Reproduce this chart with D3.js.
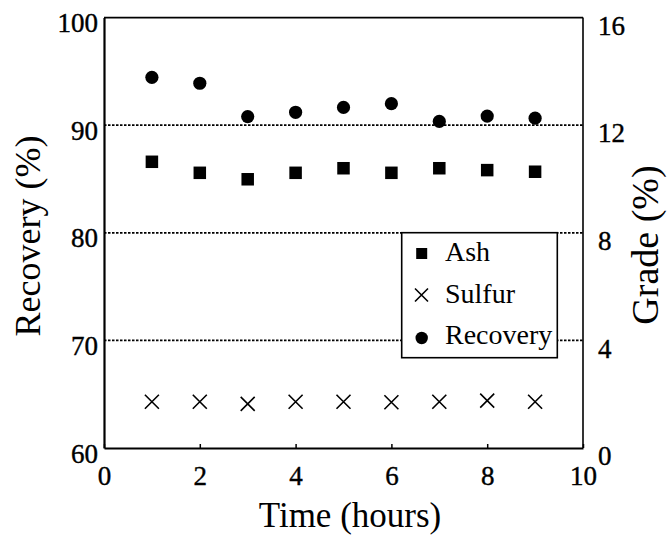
<!DOCTYPE html>
<html><head><meta charset="utf-8">
<script src="https://cdn.jsdelivr.net/npm/d3@7"></script>
<style>html,body{margin:0;padding:0;background:#fff;}
svg text{font-family:"Liberation Serif","Times New Roman",Times,"DejaVu Serif",serif !important;}</style>
</head><body>
<script>
const time = [1, 2, 3, 4, 5, 6, 7, 8, 9];
const recovery = [94.45, 93.9, 90.8, 91.2, 91.65, 92.0, 90.35, 90.85, 90.65];
const ashGrade = [10.64, 10.23, 9.99, 10.23, 10.40, 10.23, 10.40, 10.33, 10.27];
const sulfurGrade = [1.72, 1.72, 1.64, 1.72, 1.72, 1.70, 1.72, 1.76, 1.72];
const xTicks = [0, 2, 4, 6, 8, 10];
const leftTicks = [60, 70, 80, 90, 100];
const rightTicks = [0, 4, 8, 12, 16];
const gridValues = [70, 80, 90];
const legendLabels = ["Ash", "Sulfur", "Recovery"];

const W = 668, H = 541;
const L = 104, R = 583, T = 17.6, B = 448;
const FONT = "'Liberation Serif', 'Times New Roman', Times, 'DejaVu Serif', serif";
const svg = d3.select("body").append("svg").attr("width", W).attr("height", H).attr("font-family", FONT);

const x = d3.scaleLinear().domain([0, 10]).range([L, R]);
const yL = d3.scaleLinear().domain([60, 100]).range([B, T]);
const yR = d3.scaleLinear().domain([0, 16]).range([B, T]);

// grid
svg.append("g").selectAll("line").data(gridValues).join("line")
  .attr("x1", L).attr("x2", R).attr("y1", d => yL(d)).attr("y2", d => yL(d))
  .attr("stroke", "#000").attr("stroke-width", 1.8).attr("stroke-dasharray", "2.5,1.5");

// frame
svg.append("line").attr("x1", L).attr("x2", R).attr("y1", T).attr("y2", T).attr("stroke", "#000").attr("stroke-width", 1.6);
svg.append("line").attr("x1", R).attr("x2", R).attr("y1", T).attr("y2", B).attr("stroke", "#000").attr("stroke-width", 1.6);

// bottom axis
const xAxis = d3.axisBottom(x).tickValues(xTicks).tickSizeInner(-4).tickSizeOuter(0).tickFormat(d3.format("d"));
const gx = svg.append("g").attr("transform", `translate(0,${B})`).call(xAxis).attr("font-family", FONT);
gx.select(".domain").attr("stroke-width", 2.2);
gx.selectAll(".tick line").attr("stroke-width", 1.5);
gx.selectAll(".tick text").attr("font-size", 27).attr("font-family", FONT).attr("fill", "#000")
  .attr("stroke", "#000").attr("stroke-width", 0.4).attr("y", 0).attr("dy", 37);

// left axis
const yAxisL = d3.axisLeft(yL).tickValues(leftTicks).tickSize(0).tickFormat(d3.format("d"));
const gl = svg.append("g").attr("transform", `translate(${L},0)`).call(yAxisL).attr("font-family", FONT);
gl.select(".domain").attr("stroke-width", 2.2);
gl.selectAll(".tick text").attr("font-size", 27).attr("font-family", FONT).attr("fill", "#000")
  .attr("stroke", "#000").attr("stroke-width", 0.4).attr("x", -6).attr("dy", "0.52em");

// right axis labels
const yAxisR = d3.axisRight(yR).tickValues(rightTicks).tickSize(0).tickFormat(d3.format("d"));
const gr = svg.append("g").attr("transform", `translate(${R},0)`).call(yAxisR).attr("font-family", FONT);
gr.select(".domain").remove();
gr.selectAll(".tick text").attr("font-size", 27).attr("font-family", FONT).attr("fill", "#000")
  .attr("stroke", "#000").attr("stroke-width", 0.4).attr("x", 15).attr("dy", "0.62em");

// titles
svg.append("text").attr("x", 350).attr("y", 527).attr("text-anchor", "middle").attr("font-size", 35).text("Time (hours)");
svg.append("text").attr("transform", "translate(40,236) rotate(-90)").attr("text-anchor", "middle").attr("font-size", 36).text("Recovery (%)");
svg.append("text").attr("transform", "translate(658,245) rotate(-90)").attr("text-anchor", "middle").attr("font-size", 38).text("Grade (%)");

// markers
const sq = 12.5;
svg.append("g").selectAll("rect").data(time).join("rect")
  .attr("x", (d, i) => x(d) - sq / 2).attr("y", (d, i) => yR(ashGrade[i]) - sq / 2)
  .attr("width", sq).attr("height", sq).attr("fill", "#000");
svg.append("g").selectAll("circle").data(time).join("circle")
  .attr("cx", d => x(d)).attr("cy", (d, i) => yL(recovery[i])).attr("r", 6.6).attr("fill", "#000");
const cross = (g, cx, cy, s) => {
  g.append("path").attr("d", `M${cx - s},${cy - s}L${cx + s},${cy + s}M${cx - s},${cy + s}L${cx + s},${cy - s}`)
    .attr("stroke", "#000").attr("stroke-width", 1.6).attr("fill", "none");
};
const gs = svg.append("g");
time.forEach((d, i) => cross(gs, x(d), yR(sulfurGrade[i]), 7));

// legend
const lg = svg.append("g");
lg.append("rect").attr("x", 401.7).attr("y", 232.7).attr("width", 155.6).attr("height", 125)
  .attr("fill", "#fff").attr("stroke", "#000").attr("stroke-width", 1.6);
const ly = [253.5, 295, 338];
lg.append("rect").attr("x", 421.7 - 5.5).attr("y", ly[0] - 5.5).attr("width", 11).attr("height", 11).attr("fill", "#000");
cross(lg, 421.5, ly[1], 6.5);
lg.append("circle").attr("cx", 421.7).attr("cy", ly[2]).attr("r", 6.2).attr("fill", "#000");
lg.selectAll("text").data(legendLabels).join("text")
  .attr("x", 445).attr("y", (d, i) => [261, 303, 344][i]).attr("font-size", 28).text(d => d);
</script>
</body></html>
